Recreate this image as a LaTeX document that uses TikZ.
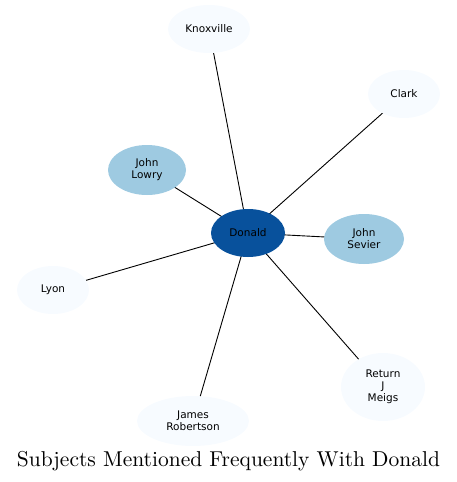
\documentclass[tikz,border=0pt]{standalone}
\usepackage{fontspec}
\setmainfont{Latin Modern Roman}
\newfontfamily\titlefont{lmroman10-regular}[Extension=.otf]
\newfontfamily\lblfont{DejaVu Sans}
\usetikzlibrary{shapes.geometric}
\pgfdeclarelayer{background}
\pgfsetlayers{background,main}
\definecolor{hub}{HTML}{08519C}
\definecolor{mid}{HTML}{9ECAE1}
\definecolor{pale}{HTML}{F7FBFF}
\tikzset{
  ent/.style={ellipse, draw=none, inner sep=0pt, align=center,
    font=\lblfont\fontsize{10.5}{12}\selectfont, text=black},
  link/.style={draw=black, line width=0.9pt}
}
\begin{document}
\begin{tikzpicture}[x=1pt,y=-1pt]
\useasboundingbox (0,0) rectangle (457,482);
\node[ent, fill=hub, minimum width=74pt, minimum height=48pt] (don) at (248,233) {Donald};
\node[ent, fill=pale, minimum width=82pt, minimum height=48pt] (kno) at (209,29) {Knoxville};
\node[ent, fill=pale, minimum width=72pt, minimum height=48pt] (cla) at (404,94) {Clark};
\node[ent, fill=mid, minimum width=78pt, minimum height=50pt] (low) at (147,170) {John\\Lowry};
\node[ent, fill=mid, minimum width=80pt, minimum height=50pt] (sev) at (364,239) {John\\Sevier};
\node[ent, fill=pale, minimum width=72pt, minimum height=48pt] (lyo) at (53,290) {Lyon};
\node[ent, fill=pale, minimum width=112pt, minimum height=50pt] (rob) at (193,421) {James\\Robertson};
\node[ent, fill=pale, minimum width=84pt, minimum height=68pt] (mei) at (383,387) {Return\\J\\Meigs};
\begin{pgfonlayer}{background}
\foreach \t in {kno,cla,low,sev,lyo,rob,mei}
  \draw[link] (don.center) -- (\t.center);
\end{pgfonlayer}
\node[font=\titlefont\fontsize{21.5}{25}\selectfont, inner sep=0pt] (title) at (228.5,461) {Subjects Mentioned Frequently With Donald};
\end{tikzpicture}
\end{document}
